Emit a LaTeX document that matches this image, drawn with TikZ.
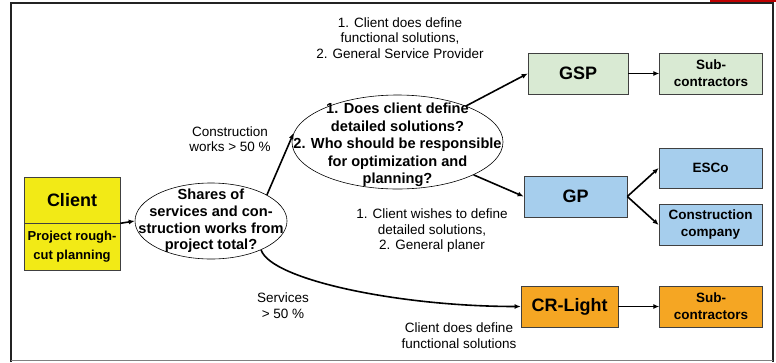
\documentclass[tikz,border=0pt]{standalone}
\usepackage{fontspec}
\setmainfont{Liberation Sans}
\usetikzlibrary{arrows.meta}
\usetikzlibrary{positioning,shapes.geometric}
\definecolor{clientyellow}{RGB}{242,234,22}
\definecolor{gspgreen}{RGB}{217,234,211}
\definecolor{gpblue}{RGB}{166,206,237}
\definecolor{crorange}{RGB}{245,166,35}
\definecolor{framegray}{RGB}{35,35,35}
\def\bigfont{\bfseries\fontsize{18}{20}\selectfont}

\begin{document}
\begin{tikzpicture}[%
        x=1pt, y=-1pt,
        box/.style={rectangle, draw=black!75, line width=0.6pt, inner sep=0pt,
          minimum height=41pt, align=center, font=\bfseries\fontsize{13.5}{17}\selectfont},
        question/.style={ellipse, draw, line width=0.6pt, inner sep=0pt},
        qtext/.style={align=center, inner sep=0pt, font=\bfseries\fontsize{14.6}{17.5}\selectfont},
        lbl/.style={align=center, inner sep=0pt, font=\fontsize{13.5}{15.5}\selectfont},
        conn/.style={line width=1.6pt, -{Latex[length=6pt,width=5pt]}},
        node distance=31pt
      ]
      \useasboundingbox (0,0) rectangle (776,362);
      % frame
      \draw [framegray, line width=2.5pt] (11,362) -- (11,3) -- (773,3) -- (773,362);
      \draw [gray, line width=1pt] (11,360) -- (773,360);
      \fill [red!75!black] (710,0) rectangle (776,2);

      \node (client) [box, fill=clientyellow, minimum width=96pt, minimum height=46pt, font=\bigfont] at (72,200) {Client};
      \node (rough) [box, fill=clientyellow, minimum width=96pt, minimum height=47pt, below=0pt of client,
        font=\bfseries\fontsize{13}{19}\selectfont] {Project rough-\\cut planning};

      \node (shares) [question, minimum width=152pt, minimum height=76pt] at (211,221) {};
      \node (sharestxt) [qtext, font=\bfseries\fontsize{14.6}{16.8}\selectfont] at (shares) {Shares of\\services and con-\\struction works from\\project total?};
      \node (decide) [question, minimum width=211pt, minimum height=94pt] at (397.5,142) {};
      \node (decidetxt) [qtext, yshift=-3pt] at (decide) {1. Does client define\\detailed solutions?\\2. Who should be responsible\\for optimization and\\planning?};

      \node (gsp) [box, fill=gspgreen, minimum width=100pt, font=\bigfont] at (578,73.5) {GSP};
      \node (subgsp) [box, fill=gspgreen, minimum width=103pt, right=of gsp] {Sub-\\contractors};
      \node (gp) [box, fill=gpblue, minimum width=103pt, font=\bigfont] at (575.5,196.5) {GP};
      \node (esco) [box, fill=gpblue, minimum width=103pt, minimum height=40pt] at (710.5,168) {ESCo};
      \node (cc) [box, fill=gpblue, minimum width=103pt] at (710.5,225) {Construction\\company};
      \node (cr) [box, fill=crorange, minimum width=97pt, font=\bigfont] at (569.5,306.5) {CR-Light};
      \node (subcr) [box, fill=crorange, minimum width=103pt, right=41pt of cr] {Sub-\\contractors};

      \node (gsplbl) [lbl] at (400,38) {1. Client does define\\functional solutions,\\2. General Service Provider};
      \node (constrlbl) [lbl] at (230,139) {Construction\\works > 50 \%};
      \node (gplbl) [lbl] at (432,231) {1. Client wishes to define\\detailed solutions,\\2. General planer};
      \node (servlbl) [lbl] at (283,305.5) {Services\\> 50 \%};
      \node (crlbl) [lbl] at (459,335.5) {Client does define\\functional solutions};

      \draw [conn] (rough.north east) -- (shares.west);
      \draw [conn] (shares.25) -- (decide.175);
      \draw [conn] (decide) -- (gsp.west);
      \draw [conn] (decide) -- (gp.west);
      \draw [conn] (gsp) -- (subgsp);
      \draw [conn] (gp.east) -- (esco.west);
      \draw [conn] (gp.east) -- (cc.west);
      \draw [conn] (cr) -- (subcr);
      \draw [conn] (shares.-30) .. controls +(10,30) and +(-121,0) .. (cr.west);
     \end{tikzpicture}
\end{document}
